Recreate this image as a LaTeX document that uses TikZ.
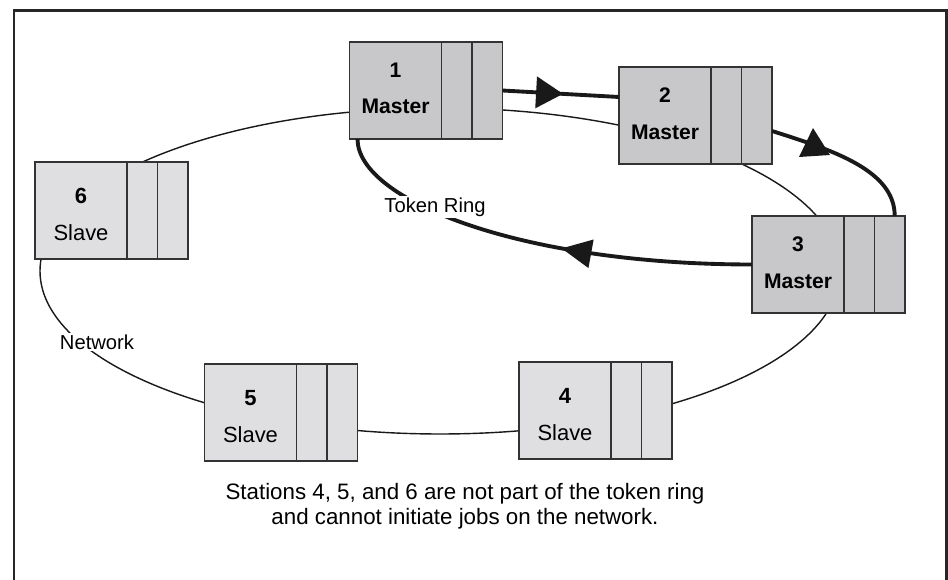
\documentclass[tikz,border=0pt]{standalone}
\usepackage{fontspec}
\setmainfont{Liberation Sans}
\usetikzlibrary{positioning,arrows.meta,decorations.markings}

\definecolor{masterfill}{RGB}{200,200,202}
\definecolor{slavefill}{RGB}{223,223,225}

\begin{document}
\begin{tikzpicture}[x=0.02cm,y=-0.02cm,
    cell/.style={draw=black!80,line width=0.6pt,outer sep=0pt,inner sep=0pt,minimum height=1.94cm},
    mainbox/.style={cell,minimum width=1.84cm,align=center},
    sidebox/.style={cell,minimum width=0.61cm},
    master/.style={fill=masterfill,font=\fontsize{12}{14}\selectfont\bfseries},
    slave/.style={fill=slavefill,font=\fontsize{12.5}{14}\selectfont},
    ring/.style={line width=2.2pt,black!90},
    net/.style={line width=0.8pt,black!90},
    lbl/.style={fill=white,inner sep=1pt,font=\fontsize{11.5}{14}\selectfont}]
    \useasboundingbox (0,0) rectangle (948,580);
    % frame
    \draw [line width=1.7pt,black!85] (14,580) |- (946.5,11) -- (946.5,580);
    % network cable
    \draw [net] (440,271) ellipse [x radius=400,y radius=163];
    % stations
    \node [mainbox,master] (s1) at (395.5,90.5) {1\\[7pt]Master\vphantom{g}};
    \node [sidebox,master,right=0pt of s1] (s1a) {};
    \node [sidebox,master,right=0pt of s1a] (s1b) {};
    \node [mainbox,master] (s2) at (665,115.5) {2\\[7pt]Master\vphantom{g}};
    \node [sidebox,master,right=0pt of s2] (s2a) {};
    \node [sidebox,master,right=0pt of s2a] (s2b) {};
    \node [mainbox,master] (s3) at (798,264.5) {3\\[7pt]Master\vphantom{g}};
    \node [sidebox,master,right=0pt of s3] (s3a) {};
    \node [sidebox,master,right=0pt of s3a] (s3b) {};
    \node [mainbox,slave] (s4) at (565,410.5) {\rule{0pt}{13pt}\textbf{4}\\[7pt]Slave};
    \node [sidebox,slave,right=0pt of s4] (s4a) {};
    \node [sidebox,slave,right=0pt of s4a] (s4b) {};
    \node [mainbox,slave] (s5) at (250.5,412.5) {\rule{0pt}{13pt}\textbf{5}\\[7pt]Slave};
    \node [sidebox,slave,right=0pt of s5] (s5a) {};
    \node [sidebox,slave,right=0pt of s5a] (s5b) {};
    \node [mainbox,slave] (s6) at (81,210.5) {\rule{0pt}{13pt}\textbf{6}\\[7pt]Slave};
    \node [sidebox,slave,right=0pt of s6] (s6a) {};
    \node [sidebox,slave,right=0pt of s6a] (s6b) {};
    % token ring
    \draw [ring,postaction={decorate},decoration={markings,
        mark=at position 0.52 with {\arrow{Triangle[length=0.54cm,width=0.62cm]}}}]
        (s1b.east) -- ([yshift=0.37cm]s2.west);
    \draw [ring] ([yshift=-0.31cm]s2b.east) .. controls +(60,19) and +(0,-46) .. ([xshift=0.1cm]s3b.north);
    \fill [black!90] (813,128) -- (799,157) -- (830,155) -- cycle;
    \draw [ring,postaction={decorate},decoration={markings,
        mark=at position 0.44 with {\arrow{Triangle[length=0.6cm,width=0.56cm]}}}]
        (s3.west) .. controls +(-232,0) and +(0,61) .. ([xshift=0.16cm]s1.south west);
    % labels
    \node [lbl] (tr) at (435,207) {Token Ring};
    \node [lbl] (nw) at (97,342) {Network};
    \node [align=center,font=\fontsize{12.7}{14.2}\selectfont] (note) at (465,506)
        {Stations 4, 5, and 6 are not part of the token ring\\and cannot initiate jobs on the network.};
\end{tikzpicture}
\end{document}
